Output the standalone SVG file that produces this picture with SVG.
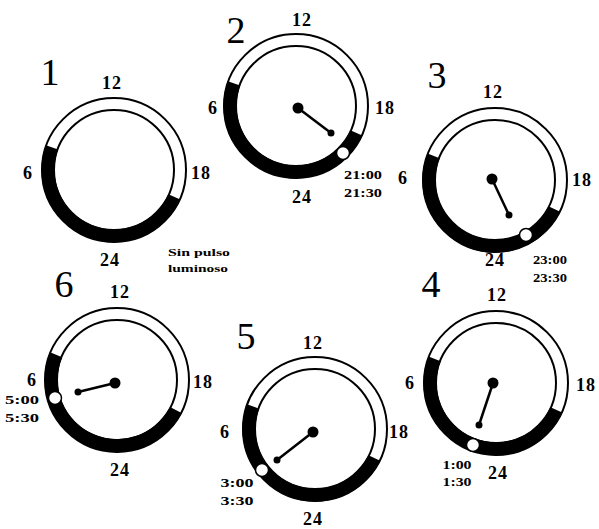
<svg xmlns="http://www.w3.org/2000/svg" width="599" height="529" viewBox="0 0 599 529">
<style>
.ring{fill:none;stroke:#000;stroke-width:2}
.band{fill:none;stroke:#000;stroke-width:13}
.lbl{font-family:"Liberation Serif","DejaVu Serif",serif;font-weight:bold;font-size:18px;text-anchor:middle;fill:#000;letter-spacing:1px}
.tm{font-family:"Liberation Serif","DejaVu Serif",serif;font-weight:bold;font-size:12px;text-anchor:middle;fill:#000}
.big{font-family:"Liberation Serif","DejaVu Serif",serif;font-size:38px;text-anchor:middle;fill:#000}
.note{font-family:"Liberation Serif","DejaVu Serif",serif;font-weight:bold;font-size:11px;fill:#000}
.hand{stroke:#000;stroke-width:2.5}
.dot{fill:#fff;stroke:#000;stroke-width:1.5}
</style>
<rect width="599" height="529" fill="#fff"/>

<g id="dial1" transform="translate(114,170)">
<path class="band" d="M60.3,26.8 A66,66 0 0 1 -62.0,-22.6"/>
<circle class="ring" r="72"/>
<circle class="ring" r="60"/>
<text class="big" x="-64" y="-85">1</text>
<text class="lbl" x="-2" y="-81">12</text>
<text class="lbl" x="-86" y="9">6</text>
<text class="lbl" x="87" y="9">18</text>
<text class="lbl" x="-4" y="96">24</text>
<text class="note" x="54" y="86" textLength="62" lengthAdjust="spacingAndGlyphs">Sin pulso</text>
<text class="note" x="54" y="102" textLength="60" lengthAdjust="spacingAndGlyphs">luminoso</text>
</g>

<g id="dial2" transform="translate(296,106)">
<path class="band" d="M60.3,26.8 A66,66 0 0 1 -62.0,-22.6"/>
<circle class="ring" r="72"/>
<circle class="ring" r="60"/>
<text class="big" x="-60" y="-63">2</text>
<text class="lbl" x="6" y="-80">12</text>
<text class="lbl" x="-83" y="8">6</text>
<text class="lbl" x="89" y="8">18</text>
<text class="lbl" x="6" y="97">24</text>
<text class="tm" x="67" y="73" textLength="38" lengthAdjust="spacingAndGlyphs">21:00</text>
<text class="tm" x="67" y="91" textLength="38" lengthAdjust="spacingAndGlyphs">21:30</text>
<line class="hand" x1="2" y1="2" x2="35" y2="27"/>
<circle r="5.5" cx="2" cy="2"/>
<circle r="3.5" cx="35" cy="27"/>
<circle class="dot" r="6.5" cx="47" cy="47"/>
</g>

<g id="dial3" transform="translate(495,180)">
<path class="band" d="M59.3,29.0 A66,66 0 0 1 -61.4,-24.2"/>
<circle class="ring" r="72"/>
<circle class="ring" r="60"/>
<text class="big" x="-58" y="-92">3</text>
<text class="lbl" x="-2" y="-82">12</text>
<text class="lbl" x="-92" y="4">6</text>
<text class="lbl" x="87" y="6">18</text>
<text class="lbl" x="0" y="86">24</text>
<text class="tm" x="55" y="84" textLength="34" lengthAdjust="spacingAndGlyphs">23:00</text>
<text class="tm" x="55" y="102" textLength="34" lengthAdjust="spacingAndGlyphs">23:30</text>
<line class="hand" x1="-3" y1="-1" x2="14" y2="35"/>
<circle r="5.5" cx="-3" cy="-1"/>
<circle r="3.5" cx="14" cy="35"/>
<circle class="dot" r="6.5" cx="31" cy="55"/>
</g>

<g id="dial4" transform="translate(496,383)">
<path class="band" d="M60.3,26.8 A66,66 0 0 1 -61.4,-24.2"/>
<circle class="ring" r="72"/>
<circle class="ring" r="60"/>
<text class="big" x="-65" y="-86">4</text>
<text class="lbl" x="1" y="-82">12</text>
<text class="lbl" x="-86" y="6">6</text>
<text class="lbl" x="90" y="8">18</text>
<text class="lbl" x="2" y="96">24</text>
<text class="tm" x="-39" y="86" textLength="29" lengthAdjust="spacingAndGlyphs">1:00</text>
<text class="tm" x="-39" y="103" textLength="29" lengthAdjust="spacingAndGlyphs">1:30</text>
<line class="hand" x1="-3" y1="0" x2="-17" y2="42"/>
<circle r="5.5" cx="-3" cy="0"/>
<circle r="3.5" cx="-17" cy="42"/>
<circle class="dot" r="6.5" cx="-23" cy="62"/>
</g>

<g id="dial5" transform="translate(315,429)">
<path class="band" d="M59.3,29.0 A66,66 0 0 1 -62.0,-22.6"/>
<circle class="ring" r="72"/>
<circle class="ring" r="60"/>
<text class="big" x="-69" y="-80">5</text>
<text class="lbl" x="-2" y="-80">12</text>
<text class="lbl" x="-90" y="9">6</text>
<text class="lbl" x="84" y="9">18</text>
<text class="lbl" x="-2" y="96">24</text>
<text class="tm" x="-78" y="58" textLength="33" lengthAdjust="spacingAndGlyphs">3:00</text>
<text class="tm" x="-78" y="76" textLength="33" lengthAdjust="spacingAndGlyphs">3:30</text>
<line class="hand" x1="-2" y1="3" x2="-38" y2="31"/>
<circle r="5.5" cx="-2" cy="3"/>
<circle r="3.5" cx="-38" cy="31"/>
<circle class="dot" r="6.5" cx="-53" cy="41"/>
</g>

<g id="dial6" transform="translate(117,380)">
<path class="band" d="M58.8,30.0 A66,66 0 0 1 -60.9,-25.3"/>
<circle class="ring" r="72"/>
<circle class="ring" r="60"/>
<text class="big" x="-53" y="-83">6</text>
<text class="lbl" x="3" y="-82">12</text>
<text class="lbl" x="-85" y="6">6</text>
<text class="lbl" x="86" y="8">18</text>
<text class="lbl" x="3" y="96">24</text>
<text class="tm" x="-95" y="24" textLength="34" lengthAdjust="spacingAndGlyphs">5:00</text>
<text class="tm" x="-95" y="42" textLength="34" lengthAdjust="spacingAndGlyphs">5:30</text>
<line class="hand" x1="-2" y1="3" x2="-39" y2="12"/>
<circle r="5.5" cx="-2" cy="3"/>
<circle r="3.5" cx="-39" cy="12"/>
<circle class="dot" r="6.5" cx="-62" cy="18"/>
</g>
</svg>
